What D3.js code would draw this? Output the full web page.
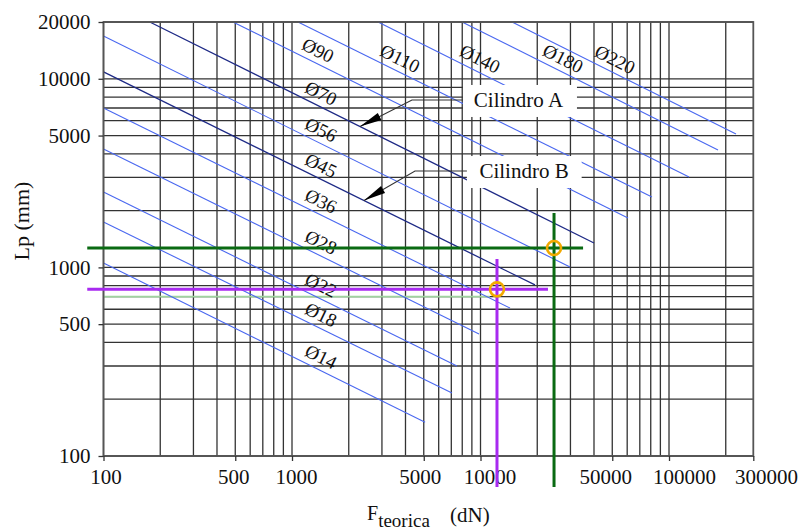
<!DOCTYPE html>
<html><head><meta charset="utf-8">
<script src="https://cdn.jsdelivr.net/npm/d3@7"></script>
<style>body{margin:0;background:#fff}</style>
</head><body><svg id="c" width="798" height="532"></svg>
<script>
// ---------- data ----------
const diameters = ["Ø14","Ø18","Ø22","Ø28","Ø36","Ø45","Ø56","Ø70","Ø90","Ø110","Ø140","Ø180","Ø220"];
const startF  = [100,100,100,100,100,100,100,176,486,1076,2860,7980,14700];
const startLp = [1055,1740,2510,4245,7000,10870,16860,20000,20000,20000,20000,20000,20000];
const endF    = [5080,7060,7500,9820,14340,19450,29840,40000,60600,81200,127700,181900,226700];
const endLp   = [151,216,300,444,609,807,1005,1347,1828,2362,3015,4193,5097];
const labelF  = [1425,1425,1425,1425,1425,1425,1425,1425,1375,3740,9930,27400,51700];
const highlighted = ["Ø45","Ø70"];

const xTicks = [100,500,1000,5000,10000,50000,100000,300000];
const yTicks = [100,500,1000,5000,10000,20000];

// cylinder annotations
const annText   = ["Cilindro A","Cilindro B"];
const annLine   = ["Ø70","Ø45"];
const annTipF   = [2295,2410];
const annElbowF = [4330,4493];
const annLevelLp= [7720,3243];
const annBoxF   = [8073,8470];
const annTextF  = [15905,17015];

// operating points
const ptName  = ["green","magenta"];
const ptF     = [24550,12230];
const ptLp    = [1267,765];
const hFromF  = [82,82];
const hToF    = [35000,22800];
const vTopLp  = [1943,1108];
const vBotLp  = [68.5,68.5];

// partially coloured grid line
const tintLp = 700, tintFromF = 100, tintToF = 11200;

// ---------- drawing ----------
const svg = d3.select("#c");
const serif = "'Liberation Serif','Times New Roman',serif";
const xs = d3.scaleLog().domain([100, 280000]).range([103.5, 753.3]);
const ys = d3.scaleLog().domain([100, 20000]).range([456, 22]);
const [x0,x1] = xs.range(), [y0,y1] = ys.range();

// horizontal nudges of x tick labels, as laid out in the original
const xLabelNudge = {100:2, 500:-2, 1000:4, 5000:-4, 10000:9, 50000:-7, 100000:15, 300000:7};

svg.append("rect").attr("width",798).attr("height",532).attr("fill","#fff");

const grid = svg.append("g").attr("stroke","#333").attr("stroke-width",1.3);
grid.selectAll("line.v").data(xs.ticks()).join("line")
  .attr("x1",d=>xs(d)).attr("x2",d=>xs(d)).attr("y1",y1).attr("y2",y0);
grid.selectAll("line.h").data(ys.ticks()).join("line")
  .attr("y1",d=>ys(d)).attr("y2",d=>ys(d)).attr("x1",x0).attr("x2",x1);

svg.append("line").attr("x1",xs(tintFromF)).attr("x2",xs(tintToF))
  .attr("y1",ys(tintLp)).attr("y2",ys(tintLp))
  .attr("stroke","#9fd49f").attr("stroke-width",1.6);

// diameter lines
const lines = diameters.map((d,i)=>({name:d,f0:startF[i],l0:startLp[i],f1:endF[i],l1:endLp[i],lf:labelF[i]}));
function lpAt(L,f){
  const t=(Math.log(f)-Math.log(L.f0))/(Math.log(L.f1)-Math.log(L.f0));
  return Math.exp(Math.log(L.l0)+t*(Math.log(L.l1)-Math.log(L.l0)));
}
svg.append("g").selectAll("line").data(lines).join("line")
  .attr("x1",d=>xs(d.f0)).attr("y1",d=>ys(d.l0))
  .attr("x2",d=>xs(d.f1)).attr("y2",d=>ys(d.l1))
  .attr("stroke",d=>highlighted.includes(d.name)?"#1e2a86":"#4a68f0")
  .attr("stroke-width",d=>highlighted.includes(d.name)?1.3:1.1);

svg.append("g").selectAll("text").data(lines).join("text")
  .attr("transform",d=>{
    const ang=Math.atan2(ys(d.l1)-ys(d.l0),xs(d.f1)-xs(d.f0))*180/Math.PI;
    return `translate(${xs(d.lf)},${ys(lpAt(d,d.lf))-14}) rotate(${ang})`;})
  .attr("text-anchor","middle").attr("dominant-baseline","central")
  .attr("font-family",serif).attr("font-size",19).attr("fill","#111")
  .text(d=>d.name);

// annotations
annText.forEach((t,i)=>{
  const L = lines.find(l=>l.name===annLine[i]);
  const tx=xs(annTipF[i]), ty=ys(lpAt(L,annTipF[i]));
  const ex=xs(annElbowF[i]), ey=ys(annLevelLp[i]);
  const bx=xs(annBoxF[i]);
  const g=svg.append("g");
  const txt=g.append("text").attr("x",xs(annTextF[i])).attr("y",ey)
    .attr("text-anchor","middle").attr("dominant-baseline","central")
    .attr("font-family",serif).attr("font-size",21).attr("fill","#111").text(t);
  const bb=txt.node().getBBox();
  g.insert("rect","text").attr("x",bx).attr("y",ey-15)
    .attr("width",bb.x+bb.width+13-bx).attr("height",32).attr("fill","#fff");
  g.append("path").attr("d",`M${bx},${ey}H${ex}L${tx},${ty}`)
    .attr("fill","none").attr("stroke","#333").attr("stroke-width",1.1);
  const ux=(ex-tx),uy=(ey-ty),n=Math.hypot(ux,uy),dx=ux/n,dy=uy/n;
  const len=22,w=4;
  g.append("path").attr("d",`M${tx},${ty}L${tx+dx*len-dy*w},${ty+dy*len+dx*w}L${tx+dx*len+dy*w},${ty+dy*len-dx*w}Z`)
    .attr("fill","#000");
});

// border
svg.append("rect").attr("x",x0).attr("y",y1).attr("width",x1-x0).attr("height",y0-y1)
  .attr("fill","none").attr("stroke","#555").attr("stroke-width",1.8);

// axes
const ax = svg.append("g").attr("transform",`translate(0,${y0})`)
  .call(d3.axisBottom(xs).tickValues(xTicks).tickFormat(d=>String(d)).tickSize(5).tickPadding(8));
const ay = svg.append("g").attr("transform",`translate(${x0},0)`)
  .call(d3.axisLeft(ys).tickValues(yTicks).tickFormat(d=>String(d)).tickSize(5).tickPadding(8));
[ax,ay].forEach(a=>{
  a.select(".domain").remove();
  a.selectAll(".tick line").attr("stroke","#333").attr("stroke-width",1.3);
  a.selectAll("text").attr("font-family",serif).attr("font-size",21).attr("fill","#111");
});
ax.selectAll(".tick text").attr("dx",d=>xLabelNudge[d]||0);
ax.selectAll(".tick").filter(d=>d>xs.domain()[1]).select("line").attr("x1",x1-xs(300000)).attr("x2",x1-xs(300000));

// operating points
const ptColor = {green:"#0a6a12", magenta:"#a82af0"};
ptName.forEach((p,i)=>{
  svg.append("line").attr("x1",xs(hFromF[i])).attr("x2",xs(hToF[i]))
    .attr("y1",ys(ptLp[i])).attr("y2",ys(ptLp[i]))
    .attr("stroke",ptColor[p]).attr("stroke-width",3);
  svg.append("line").attr("x1",xs(ptF[i])).attr("x2",xs(ptF[i]))
    .attr("y1",ys(vTopLp[i])).attr("y2",ys(vBotLp[i]))
    .attr("stroke",ptColor[p]).attr("stroke-width",3);
  svg.append("circle").attr("cx",xs(ptF[i])).attr("cy",ys(ptLp[i])).attr("r",7)
    .attr("fill","none").attr("stroke","#f2a900").attr("stroke-width",2.6);
});

// axis titles
svg.append("text").attr("transform","translate(29,221) rotate(-90)")
  .attr("text-anchor","middle").attr("font-family",serif).attr("font-size",22).attr("fill","#111")
  .text("Lp (mm)");
const xt = svg.append("text").attr("x",367).attr("y",520)
  .attr("font-family",serif).attr("fill","#111");
xt.append("tspan").attr("font-size",20).text("F");
xt.append("tspan").attr("font-size",19).attr("dy",7).text("teorica");
xt.append("tspan").attr("font-size",21).attr("x",450).attr("y",522).text("(dN)");
</script></body></html>
